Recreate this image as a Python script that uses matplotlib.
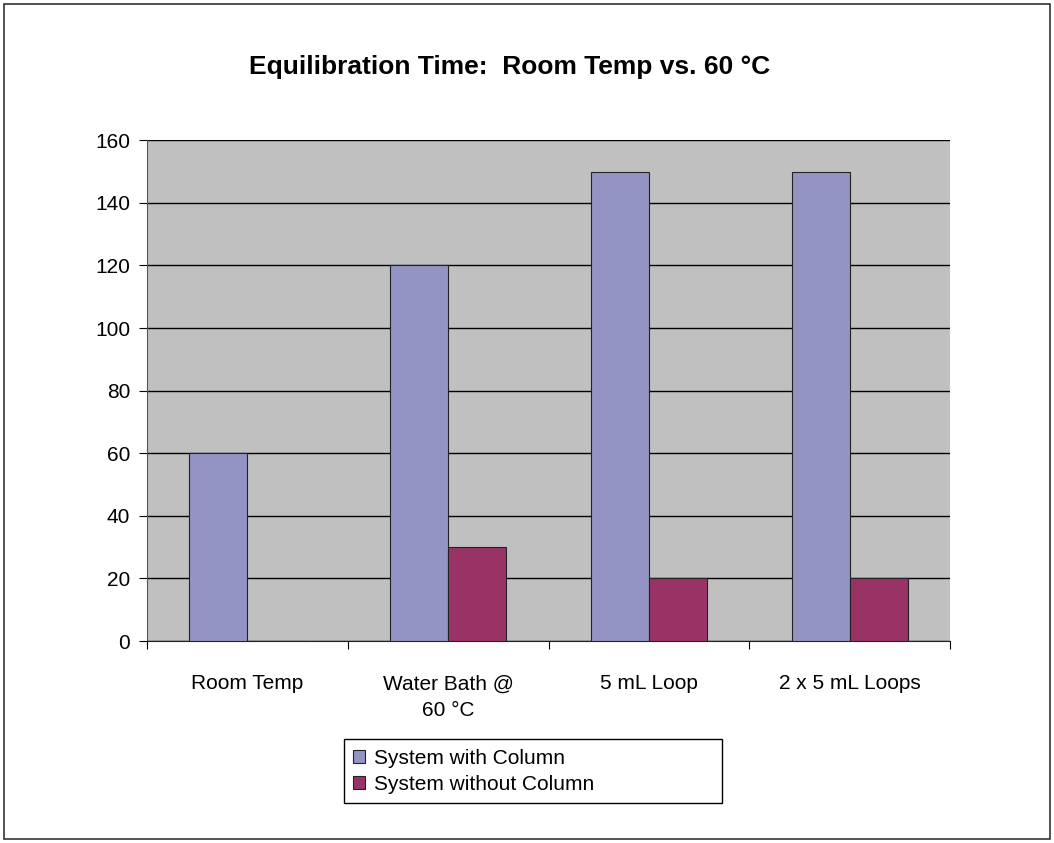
import matplotlib
matplotlib.use("Agg")
import matplotlib.pyplot as plt
import numpy as np
from matplotlib.patches import Rectangle

categories = ["Room Temp", "Water Bath @\n60 \u00b0C", "5 mL Loop", "2 x 5 mL Loops"]
with_column = [60, 120, 150, 150]
without_column = [0, 30, 20, 20]
yticks = [0, 20, 40, 60, 80, 100, 120, 140, 160]

FS = 15
fig = plt.figure(figsize=(10.54, 8.43), dpi=100)
fig.patches.append(Rectangle((0.004, 0.005), 0.992, 0.99, transform=fig.transFigure,
                             fill=False, edgecolor="#333333", linewidth=1.2))
ax = fig.add_axes([0.1395, 0.2396, 0.762, 0.594])
ax.set_facecolor("#C0C0C0")
x = np.arange(len(categories)) + 0.5
w = 0.29
ax.bar(x - w/2, with_column, w, color="#9494C4", edgecolor="#222222", linewidth=0.8,
       label="System with Column", zorder=3)
ax.bar(x + w/2, without_column, w, color="#993366", edgecolor="#222222", linewidth=0.8,
       label="System without Column", zorder=3)
ax.set_xlim(0, 4)
ax.set_ylim(0, 160)
ax.set_yticks(yticks)
ax.yaxis.grid(True, color="black", linewidth=1, zorder=1)
ax.set_xticks(np.arange(5))
ax.set_xticklabels([])
ax.set_xticks(x, minor=True)
ax.set_xticklabels(categories, minor=True, fontsize=FS, fontfamily="Liberation Sans",
                   linespacing=1.5)
ax.tick_params(axis="x", which="minor", length=0, pad=24)
ax.tick_params(axis="x", which="major", length=6, direction="out")
ax.tick_params(axis="y", labelsize=FS, length=6, direction="out", pad=6)
for lab in ax.get_yticklabels():
    lab.set_fontfamily("Liberation Sans")
for s in ["top", "right"]:
    ax.spines[s].set_visible(False)
ax.spines["left"].set_color("#555555")
ax.spines["bottom"].set_color("#222222")
fig.text(0.483, 0.921, "Equilibration Time:  Room Temp vs. 60 \u00b0C", ha="center", va="center",
         fontsize=19, fontweight="bold", fontfamily="Liberation Sans")
leg = fig.legend(loc="lower left", bbox_to_anchor=(0.326, 0.047, 0.359, 0.078), mode="expand",
                 fancybox=False, edgecolor="black", framealpha=1,
                 prop={"family": "Liberation Sans", "size": FS},
                 handlelength=0.6, handleheight=0.6, handletextpad=0.4,
                 borderaxespad=0, labelspacing=0.35, borderpad=0.45)
leg.get_frame().set_linewidth(1)
fig.savefig("out.png", dpi=100)
